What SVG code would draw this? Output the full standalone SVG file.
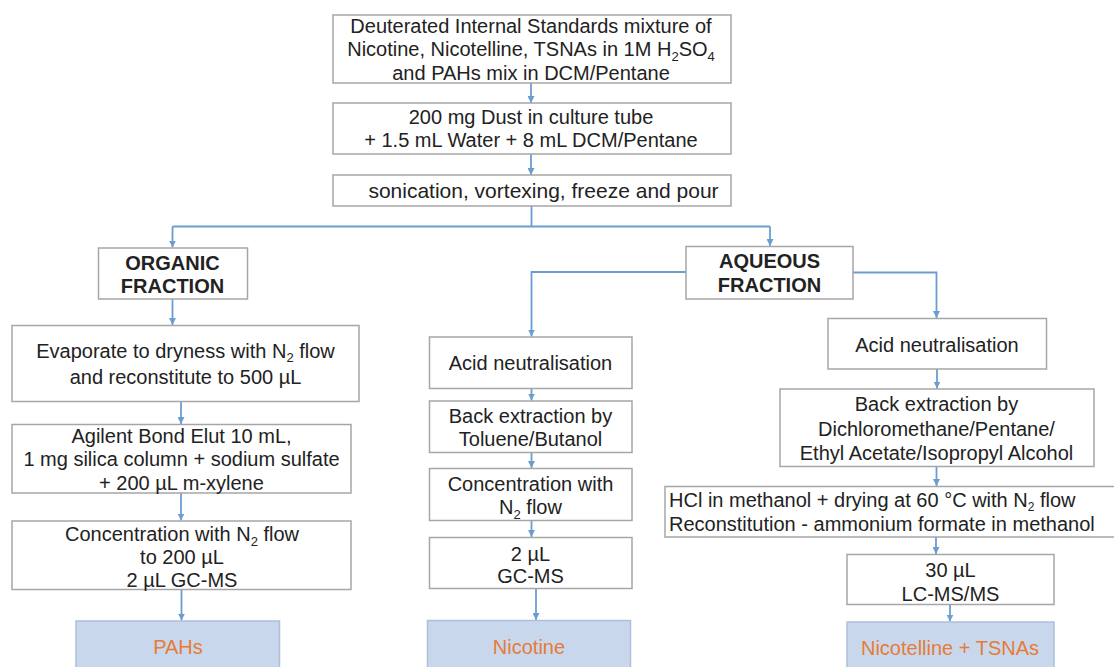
<svg xmlns="http://www.w3.org/2000/svg" width="1114" height="667" viewBox="0 0 1114 667">
<style>
  .box{fill:#ffffff;stroke:#a6a6a6;stroke-width:1.5}
  .res{fill:#c9d7ec;stroke:#aebfda;stroke-width:1.5}
  .t{font-family:"Liberation Sans",Arial,sans-serif;font-size:20px;fill:#222222;text-anchor:middle}
  .b{font-weight:bold}
  .o{fill:#e57c35}
  .l{text-anchor:start}
  .con{fill:none;stroke:#6b9dcf;stroke-width:1.8}
</style>
<defs>
  <marker id="ah" markerUnits="userSpaceOnUse" markerWidth="8" markerHeight="7" refX="7" refY="3.5" orient="auto">
    <path d="M0,0 L7,3.5 L0,7 z" fill="#6b9dcf"/>
  </marker>
</defs>
<rect width="1114" height="667" fill="#ffffff"/>

<g id="connectors">
  <path class="con" d="M531,83 V103" marker-end="url(#ah)"/>
  <path class="con" d="M531,154 V175" marker-end="url(#ah)"/>
  <path class="con" d="M531.5,206 V226.5"/>
  <path class="con" d="M172.5,226.5 H770"/>
  <path class="con" d="M172.5,226.5 V247.5" marker-end="url(#ah)"/>
  <path class="con" d="M770,226.5 V246" marker-end="url(#ah)"/>
  <path class="con" d="M172.5,299 V325" marker-end="url(#ah)"/>
  <path class="con" d="M181,401.5 V424" marker-end="url(#ah)"/>
  <path class="con" d="M181,493 V520.5" marker-end="url(#ah)"/>
  <path class="con" d="M181.5,589.5 V620.5" marker-end="url(#ah)"/>
  <path class="con" d="M686,272 H531.5 V336.5" marker-end="url(#ah)"/>
  <path class="con" d="M531.5,388.5 V400.5" marker-end="url(#ah)"/>
  <path class="con" d="M531.5,452.5 V468" marker-end="url(#ah)"/>
  <path class="con" d="M531.5,520.5 V537" marker-end="url(#ah)"/>
  <path class="con" d="M536,588.5 V620" marker-end="url(#ah)"/>
  <path class="con" d="M853,272.5 H936.5 V318" marker-end="url(#ah)"/>
  <path class="con" d="M937,369 V388.5" marker-end="url(#ah)"/>
  <path class="con" d="M936.5,466.5 V486" marker-end="url(#ah)"/>
  <path class="con" d="M936,537 V554" marker-end="url(#ah)"/>
  <path class="con" d="M950,604.5 V621.5" marker-end="url(#ah)"/>
</g>

<g id="n-standards">
  <rect class="box" x="333" y="15" width="398" height="68"/>
  <text class="t" x="531" y="32.5">Deuterated Internal Standards mixture of</text>
  <text class="t" x="531" y="56">Nicotine, Nicotelline, TSNAs in 1M H<tspan font-size="13" dy="4.5">2</tspan><tspan dy="-4.5">SO</tspan><tspan font-size="13" dy="4.5">4</tspan></text>
  <text class="t" x="531" y="79.5">and PAHs mix in DCM/Pentane</text>
</g>
<g id="n-dust">
  <rect class="box" x="333" y="103" width="398" height="51"/>
  <text class="t" x="531" y="124">200 mg Dust in culture tube</text>
  <text class="t" x="531" y="147">+ 1.5 mL Water + 8 mL DCM/Pentane</text>
</g>
<g id="n-sonication">
  <rect class="box" x="333" y="175" width="398" height="31"/>
  <text class="t" x="543.5" y="197.5" style="font-size:21px">sonication, vortexing, freeze and pour</text>
</g>

<g id="n-organic">
  <rect class="box" x="98.5" y="248" width="149" height="51"/>
  <text class="t b" x="172.5" y="270">ORGANIC</text>
  <text class="t b" x="172.5" y="292.5">FRACTION</text>
</g>
<g id="n-aqueous">
  <rect class="box" x="686" y="246.5" width="167" height="52.5"/>
  <text class="t b" x="769.5" y="268">AQUEOUS</text>
  <text class="t b" x="769.5" y="291.5">FRACTION</text>
</g>

<g id="n-evaporate">
  <rect class="box" x="12" y="325.5" width="347" height="76"/>
  <text class="t" x="185.5" y="357.5">Evaporate to dryness with N<tspan font-size="13" dy="4.5">2</tspan><tspan dy="-4.5"> flow</tspan></text>
  <text class="t" x="185.5" y="384">and reconstitute to 500 µL</text>
</g>
<g id="n-agilent">
  <rect class="box" x="12" y="424.5" width="339" height="68.5"/>
  <text class="t" x="181.5" y="442.5">Agilent Bond Elut 10 mL,</text>
  <text class="t" x="181.5" y="466">1 mg silica column + sodium sulfate</text>
  <text class="t" x="181.5" y="490">+ 200 µL m-xylene</text>
</g>
<g id="n-conc-left">
  <rect class="box" x="12" y="521" width="339" height="68.5"/>
  <text class="t" x="182" y="541">Concentration with N<tspan font-size="13" dy="4.5">2</tspan><tspan dy="-4.5"> flow</tspan></text>
  <text class="t" x="182" y="564">to 200 µL</text>
  <text class="t" x="182" y="587">2 µL GC-MS</text>
</g>
<g id="n-pahs">
  <rect class="res" x="76" y="621" width="203.5" height="60"/>
  <text class="t o" x="178" y="654">PAHs</text>
</g>

<g id="n-acid-mid">
  <rect class="box" x="429.5" y="337" width="202.5" height="51.5"/>
  <text class="t" x="530.5" y="369.5">Acid neutralisation</text>
</g>
<g id="n-back-mid">
  <rect class="box" x="429.5" y="401" width="202.5" height="51.5"/>
  <text class="t" x="530.5" y="422.5">Back extraction by</text>
  <text class="t" x="530.5" y="446">Toluene/Butanol</text>
</g>
<g id="n-conc-mid">
  <rect class="box" x="429.5" y="468.5" width="202.5" height="52"/>
  <text class="t" x="530.5" y="491">Concentration with</text>
  <text class="t" x="530.5" y="514">N<tspan font-size="13" dy="4.5">2</tspan><tspan dy="-4.5"> flow</tspan></text>
</g>
<g id="n-gcms-mid">
  <rect class="box" x="429.5" y="537.5" width="202.5" height="51"/>
  <text class="t" x="530.5" y="561">2 µL</text>
  <text class="t" x="530.5" y="582.5">GC-MS</text>
</g>
<g id="n-nicotine">
  <rect class="res" x="427.5" y="620.5" width="203" height="60"/>
  <text class="t o" x="529" y="653.5">Nicotine</text>
</g>

<g id="n-acid-right">
  <rect class="box" x="828" y="318.5" width="218.5" height="50.5"/>
  <text class="t" x="937" y="351.5">Acid neutralisation</text>
</g>
<g id="n-back-right">
  <rect class="box" x="780" y="389" width="314" height="77.5"/>
  <text class="t" x="936.5" y="411">Back extraction by</text>
  <text class="t" x="936.5" y="435.5">Dichloromethane/Pentane/</text>
  <text class="t" x="936.5" y="459.5">Ethyl Acetate/Isopropyl Alcohol</text>
</g>
<g id="n-hcl">
  <rect class="box" x="665" y="486.5" width="460" height="50.5"/>
  <text class="t l" x="669" y="507">HCl in methanol + drying at 60 °C with N<tspan font-size="12" dy="3.5">2</tspan><tspan dy="-3.5"> flow</tspan></text>
  <text class="t l" x="669" y="531">Reconstitution - ammonium formate in methanol</text>
</g>
<g id="n-lcms">
  <rect class="box" x="847" y="554.5" width="207" height="50"/>
  <text class="t" x="950.5" y="577">30 µL</text>
  <text class="t" x="950.5" y="600.5">LC-MS/MS</text>
</g>
<g id="n-nicotelline">
  <rect class="res" x="847" y="622" width="207" height="60"/>
  <text class="t o" x="950" y="654.5">Nicotelline + TSNAs</text>
</g>
</svg>
